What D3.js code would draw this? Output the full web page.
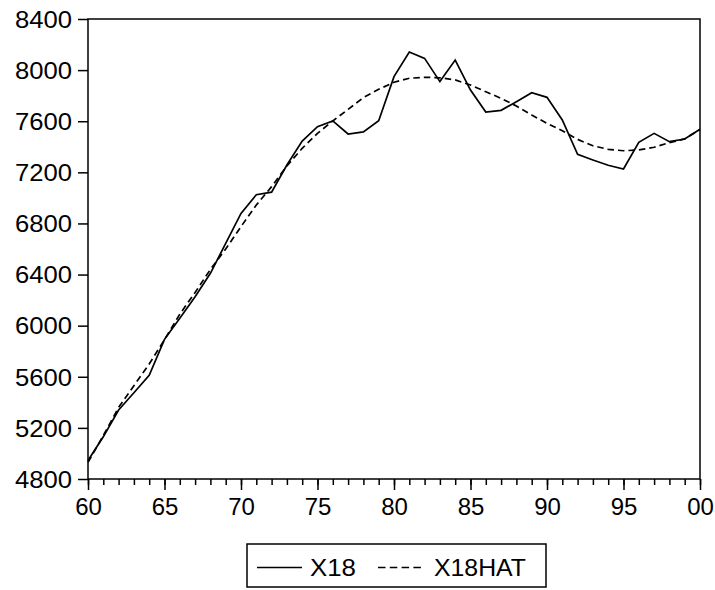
<!DOCTYPE html>
<html><head><meta charset="utf-8">
<script src="https://cdn.jsdelivr.net/npm/d3@7"></script>
<style>body{margin:0;background:#fff;} svg{display:block;}</style>
</head><body>
<svg id="chart" width="715" height="590"></svg>
<script>
const years = d3.range(1960, 2001);
const x18 = [4945,5130,5340,5475,5612,5893,6058,6227,6410,6644,6879,7025,7045,7257,7445,7557,7602,7500,7516,7604,
             7949,8142,8092,7910,8079,7844,7672,7685,7753,7823,7787,7610,7341,7297,7255,7226,7435,7505,7440,7461,7537];
const x18hat = [4930,5140,5360,5530,5700,5890,6090,6260,6440,6600,6775,6944,7088,7250,7388,7505,7602,7693,7785,7850,
                7905,7936,7944,7940,7923,7883,7831,7779,7719,7649,7583,7526,7458,7408,7380,7369,7375,7396,7432,7462,7535];
const yTicks = [4800,5200,5600,6000,6400,6800,7200,7600,8000,8400];
const xMajor = [1960,1965,1970,1975,1980,1985,1990,1995,2000];
const seriesNames = ["X18","X18HAT"];

const L = 88, R = 700, T = 19, B = 479;
const svg = d3.select("#chart");
const x = d3.scaleLinear().domain([1960, 2000]).range([L, R]);
const y = d3.scaleLinear().domain([4800, 8400]).range([B, T]);
const font = "'Liberation Sans', Arial, sans-serif";

// frame
svg.append("rect").attr("x", L).attr("y", T).attr("width", R - L).attr("height", B - T)
  .attr("fill", "none").attr("stroke", "#000").attr("stroke-width", 1.5);

// y axis
const yAxis = d3.axisLeft(y).tickValues(yTicks).tickSize(10).tickPadding(6).tickFormat(d3.format("d"));
const gy = svg.append("g").attr("transform", `translate(${L},0)`).call(yAxis);
gy.select(".domain").remove();
gy.selectAll("line").attr("stroke", "#000").attr("stroke-width", 1.5);
gy.selectAll("text").attr("font-family", font).attr("font-size", 23).attr("fill", "#000")
  .attr("dy", "0.36em").attr("textLength", 57).attr("lengthAdjust", "spacingAndGlyphs");

// x axis minor ticks
const gxm = svg.append("g").attr("transform", `translate(0,${B})`)
  .call(d3.axisBottom(x).tickValues(years).tickSize(6).tickFormat(""));
gxm.select(".domain").remove();
gxm.selectAll("line").attr("stroke", "#000").attr("stroke-width", 1.5);
// x axis major ticks
const gx = svg.append("g").attr("transform", `translate(0,${B})`)
  .call(d3.axisBottom(x).tickValues(xMajor).tickSize(11).tickPadding(8)
    .tickFormat(d => String(d % 100).padStart(2, "0")));
gx.select(".domain").remove();
gx.selectAll("line").attr("stroke", "#000").attr("stroke-width", 1.5);
gx.selectAll("text").attr("font-family", font).attr("font-size", 24).attr("fill", "#000");

// lines
const line = d3.line().x((d, i) => x(years[i])).y(d => y(d));
svg.append("path").datum(x18hat).attr("d", line).attr("fill", "none")
  .attr("stroke", "#000").attr("stroke-width", 1.7).attr("stroke-dasharray", "6.5,4");
svg.append("path").datum(x18).attr("d", line).attr("fill", "none")
  .attr("stroke", "#000").attr("stroke-width", 1.7).attr("stroke-linejoin", "miter");

// legend
const lg = svg.append("g");
lg.append("rect").attr("x", 247).attr("y", 544).attr("width", 299).attr("height", 43)
  .attr("fill", "#fff").attr("stroke", "#000").attr("stroke-width", 1.5);
lg.append("line").attr("x1", 257).attr("x2", 302).attr("y1", 567.5).attr("y2", 567.5)
  .attr("stroke", "#000").attr("stroke-width", 1.5);
lg.append("text").attr("x", 310).attr("y", 575.5).text(seriesNames[0])
  .attr("font-family", font).attr("font-size", 24).attr("textLength", 46).attr("lengthAdjust", "spacingAndGlyphs");
lg.append("line").attr("x1", 378).attr("x2", 422).attr("y1", 567.5).attr("y2", 567.5)
  .attr("stroke", "#000").attr("stroke-width", 1.5).attr("stroke-dasharray", "7.5,4.3");
lg.append("text").attr("x", 434).attr("y", 575.5).text(seriesNames[1])
  .attr("font-family", font).attr("font-size", 24).attr("textLength", 92).attr("lengthAdjust", "spacingAndGlyphs");
</script>
</body></html>
